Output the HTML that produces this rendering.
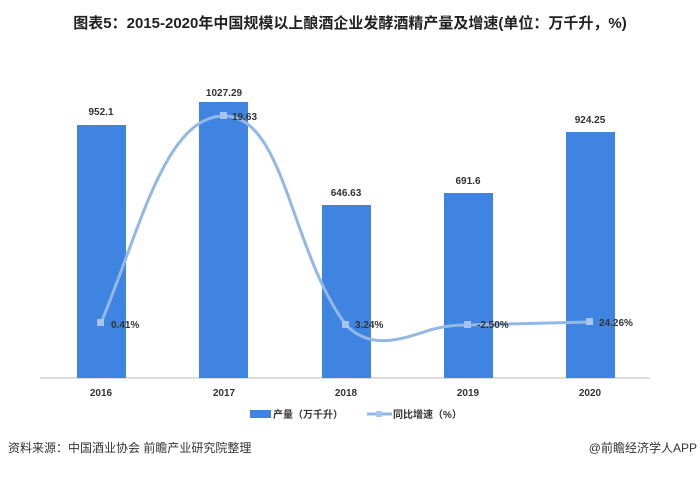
<!DOCTYPE html>
<html><head><meta charset="utf-8"><style>
body{margin:0;background:#fff;}
svg text{font-family:"Liberation Sans","Noto Sans CJK SC",sans-serif;}
</style></head><body>
<svg width="700" height="497" viewBox="0 0 700 497" xmlns="http://www.w3.org/2000/svg">
<rect width="700" height="497" fill="#fff"/>
<text x="350" y="28" text-anchor="middle" font-size="15" font-weight="bold" fill="#222">图表5：2015-2020年中国规模以上酿酒企业发酵酒精产量及增速(单位：万千升，%)</text>
<line x1="40" y1="378" x2="650" y2="378" stroke="#d0d0d0" stroke-width="1.5"/>
<g fill="#3f84e0">
<rect x="77" y="125" width="49" height="253"/>
<rect x="199" y="102" width="49" height="276"/>
<rect x="322" y="205" width="49" height="173"/>
<rect x="444" y="193" width="49" height="185"/>
<rect x="566" y="132" width="49" height="246"/>
</g>
<g font-size="10" font-weight="bold" fill="#333" text-anchor="middle">
<text x="101" y="115">952.1</text>
<text x="224" y="96">1027.29</text>
<text x="346" y="196">646.63</text>
<text x="468" y="184">691.6</text>
<text x="590" y="123">924.25</text>
<text x="101" y="396">2016</text>
<text x="224" y="396">2017</text>
<text x="346" y="396">2018</text>
<text x="468" y="396">2019</text>
<text x="590" y="396">2020</text>
</g>
<path d="M101,323 C140,230 165,116 224,116 C285,116 290,250 346,325 C370,350 400,340 430,330 C445,326 455,325 468,325 C520,324 560,323 590,322" fill="none" stroke="#92b8e6" stroke-width="3"/>
<g fill="#a7c4ea">
<rect x="97" y="319" width="7" height="7"/><rect x="220" y="112" width="7" height="7"/><rect x="342" y="321" width="7" height="7"/><rect x="464" y="321" width="7" height="7"/><rect x="586" y="318" width="7" height="7"/>
</g>
<g font-size="10" font-weight="bold" fill="#333">
<text x="111" y="328">0.41%</text>
<text x="232" y="120">19.63</text>
<text x="355" y="328">3.24%</text>
<text x="477" y="328">-2.50%</text>
<text x="599" y="326">24.26%</text>
</g>
<rect x="250" y="410" width="21" height="8" fill="#3f84e0"/>
<text x="273" y="418" font-size="10" font-weight="bold" fill="#333">产量（万千升）</text>
<line x1="367" y1="414" x2="392" y2="414" stroke="#92b8e6" stroke-width="3"/>
<rect x="376" y="411" width="6" height="6" fill="#a7c4ea"/>
<text x="393" y="418" font-size="10" font-weight="bold" fill="#333">同比增速（%）</text>
<text x="8" y="452" font-size="12" fill="#333">资料来源：中国酒业协会 前瞻产业研究院整理</text>
<text x="697" y="452" font-size="12" fill="#333" text-anchor="end">@前瞻经济学人APP</text>
</svg>
</body></html>
